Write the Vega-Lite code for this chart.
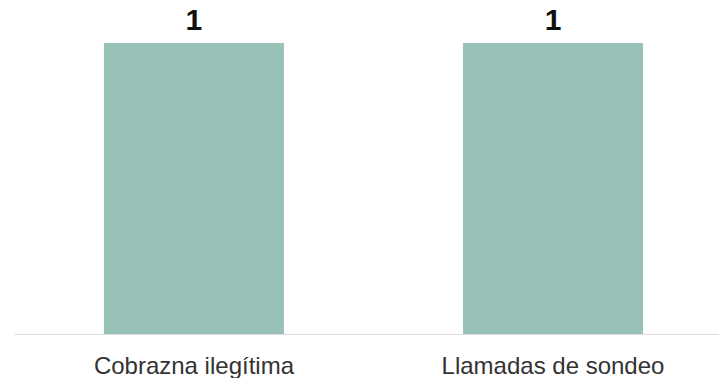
{
  "$schema": "https://vega.github.io/schema/vega-lite/v6.json",
  "autosize": "none",
  "width": 705,
  "height": 291,
  "padding": {"left": 14, "top": 43, "right": 0, "bottom": 44},
  "background": "white",
  "config": {"view": {"stroke": null}, "font": "Liberation Sans"},
  "data": {"values": [
    {"categoria": "Cobrazna ilegítima", "valor": 1},
    {"categoria": "Llamadas de sondeo", "valor": 1}
  ]},
  "encoding": {
    "x": {
      "field": "categoria", "type": "nominal", "sort": null,
      "scale": {"paddingInner": 0.4986, "paddingOuter": 0.231, "align": 0.542},
      "axis": {
        "title": null, "labelAngle": 0, "ticks": false, "labelLimit": 0,
        "labelFontSize": 24, "labelColor": "#333333", "labelPadding": 20,
        "labelFont": "Liberation Sans",
        "domainColor": "#dcdcdc", "domainWidth": 1, "grid": false
      }
    },
    "y": {
      "field": "valor", "type": "quantitative",
      "scale": {"domain": [0, 1], "nice": false},
      "axis": null
    }
  },
  "layer": [
    {"mark": {"type": "bar", "color": "#98c2b8"}},
    {
      "mark": {"type": "text", "baseline": "alphabetic", "dy": -13, "fontSize": 30, "fontWeight": "bold", "color": "#111111", "font": "Liberation Sans"},
      "encoding": {"text": {"field": "valor", "type": "quantitative"}}
    }
  ]
}
